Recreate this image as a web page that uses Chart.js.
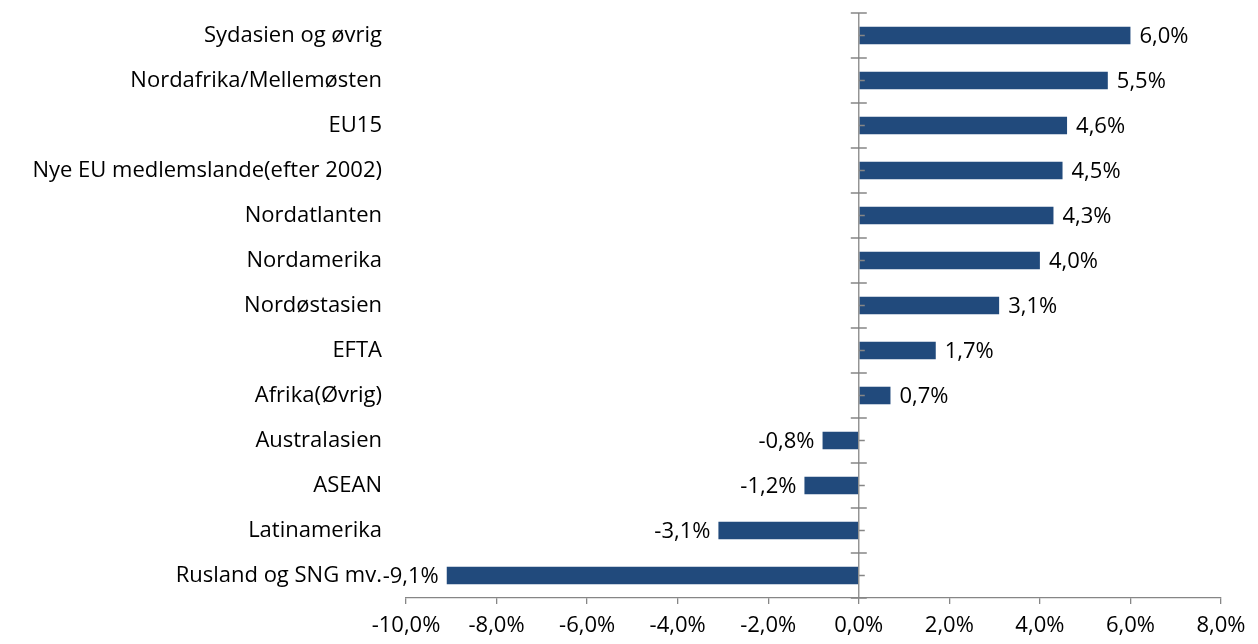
<!DOCTYPE html>
<html>
<head>
<meta charset="utf-8">
<script src="https://cdn.jsdelivr.net/npm/chart.js@4"></script>
<style>
  html, body { margin: 0; padding: 0; background: #fff; }
  #wrap { width: 1258px; height: 644px; }
</style>
</head>
<body>
<div id="wrap"><canvas id="grafico" width="1258" height="644"></canvas></div>
<script>
var regioner = ['Sydasien og øvrig', 'Nordafrika/Mellemøsten', 'EU15', 'Nye EU medlemslande(efter 2002)',
  'Nordatlanten', 'Nordamerika', 'Nordøstasien', 'EFTA', 'Afrika(Øvrig)', 'Australasien', 'ASEAN',
  'Latinamerika', 'Rusland og SNG mv.'];
var vaekst = [6.0, 5.5, 4.6, 4.5, 4.3, 4.0, 3.1, 1.7, 0.7, -0.8, -1.2, -3.1, -9.1];
var xMin = -10;
var xMax = 8;
var xStep = 2;

var gra = '#868686';
var fontNavn = '"Open Sans", Lato, sans-serif';
var fontStr = 22;

function formatProcent(v) {
  return v.toFixed(1).replace('.', ',') + '%';
}

// værdier ved enden af søjlerne
var etiketter = {
  id: 'etiketter',
  afterDatasetsDraw: function (chart) {
    var ctx = chart.ctx;
    var meta = chart.getDatasetMeta(0);
    ctx.save();
    ctx.font = fontStr + 'px ' + fontNavn;
    ctx.fillStyle = '#000';
    ctx.textBaseline = 'middle';
    meta.data.forEach(function (bar, i) {
      var v = vaekst[i];
      if (v >= 0) {
        ctx.textAlign = 'left';
        ctx.fillText(formatProcent(v), bar.x + 9, bar.y + 1);
      } else {
        ctx.textAlign = 'right';
        ctx.fillText(formatProcent(v), bar.x - 8, bar.y + 1);
      }
    });
    ctx.restore();
  }
};

// lodret akse ved 0 med streger mellem kategorierne
var nulAkse = {
  id: 'nulAkse',
  afterDraw: function (chart) {
    var ctx = chart.ctx;
    var x0 = chart.scales.x.getPixelForValue(0);
    var ys = chart.scales.y;
    var area = chart.chartArea;
    ctx.save();
    ctx.strokeStyle = gra;
    ctx.lineWidth = 1.3;
    ctx.beginPath();
    ctx.moveTo(x0, area.top);
    ctx.lineTo(x0, area.bottom);
    for (var i = 0; i <= regioner.length; i++) {
      var y = area.top + (area.bottom - area.top) * i / regioner.length;
      ctx.moveTo(x0 - 8, y);
      ctx.lineTo(x0 + 8, y);
    }
    for (var j = 0; j < regioner.length; j++) {
      var yc = ys.getPixelForValue(j);
      ctx.moveTo(x0, yc);
      ctx.lineTo(x0 + 6, yc);
    }
    ctx.stroke();
    ctx.restore();
  }
};

var ctx = document.getElementById('grafico');

var myChart = new Chart(ctx, {
  type: 'bar',
  data: {
    labels: regioner,
    datasets: [{
      data: vaekst,
      backgroundColor: '#214A7C',
      borderWidth: 0,
      barPercentage: 0.78,
      categoryPercentage: 0.5
    }]
  },
  plugins: [etiketter, nulAkse],
  options: {
    indexAxis: 'y',
    responsive: false,
    animation: false,
    layout: { padding: { top: 13, right: 37, left: 0, bottom: 0 } },
    plugins: {
      legend: { display: false },
      tooltip: { enabled: false }
    },
    scales: {
      x: {
        min: xMin,
        max: xMax,
        afterFit: function (scale) {
          scale.height = 46;
          scale.paddingLeft = 0;
          scale.paddingRight = 0;
        },
        ticks: {
          stepSize: xStep,
          color: '#000',
          padding: 9,
          font: { family: fontNavn, size: fontStr },
          callback: function (v) { return formatProcent(v); }
        },
        grid: {
          color: 'rgba(0,0,0,0)',
          tickColor: gra,
          tickLength: 6,
          lineWidth: 1.3
        },
        border: { color: gra, width: 1.3 }
      },
      y: {
        afterFit: function (scale) {
          scale.width = 406;
          scale.paddingTop = 0;
          scale.paddingBottom = 0;
        },
        ticks: {
          color: '#000',
          padding: 24,
          font: { family: fontNavn, size: fontStr }
        },
        grid: { display: false, drawTicks: false },
        border: { display: false }
      }
    }
  }
});
</script>
</body>
</html>
